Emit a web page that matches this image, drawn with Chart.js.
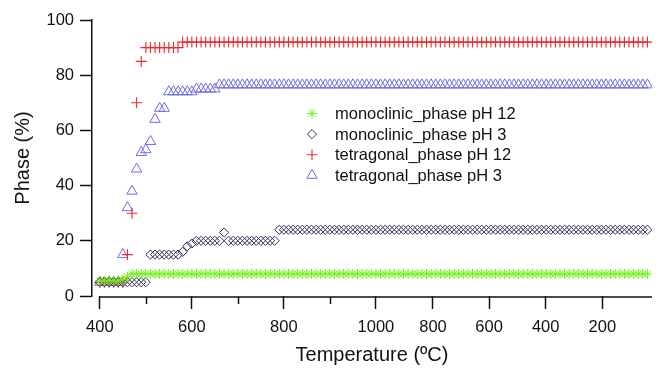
<!DOCTYPE html>
<html>
<head>
<meta charset="utf-8">
<script src="https://cdn.jsdelivr.net/npm/chart.js@4/dist/chart.umd.min.js"></script>
<style>
  html, body { margin: 0; padding: 0; background: #fff; }
  #wrap { width: 659px; height: 371px; position: relative; }
</style>
</head>
<body>
<div id="wrap"><canvas id="chart"></canvas></div>
<script>
// scan number (x position of each measurement, heating then cooling)
const scan = [
  0, 1, 2, 3, 4, 5, 6, 7, 8, 9, 10, 11, 12, 13, 14, 15, 16, 17, 18, 19,
  20, 21, 22, 23, 24, 25, 26, 27, 28, 29, 30, 31, 32, 33, 34, 35, 36, 37, 38, 39,
  40, 41, 42, 43, 44, 45, 46, 47, 48, 49, 50, 51, 52, 53, 54, 55, 56, 57, 58, 59,
  60, 61, 62, 63, 64, 65, 66, 67, 68, 69, 70, 71, 72, 73, 74, 75, 76, 77, 78, 79,
  80, 81, 82, 83, 84, 85, 86, 87, 88, 89, 90, 91, 92, 93, 94, 95, 96, 97, 98, 99,
  100, 101, 102, 103, 104, 105, 106, 107, 108, 109, 110, 111, 112, 113, 114, 115, 116, 117, 118, 119
];

// temperature labels on the bottom axis (scan position -> label)
const xTickPos = [0, 20, 40, 60, 72.4, 84.6, 96.9, 109.2];
const xTickLabels = ['400', '600', '800', '1000', '800', '600', '400', '200'];
const xMinorTicks = [10, 30, 50];
const yTicks = [0, 20, 40, 60, 80, 100];

// Phase (%) values
const monoPH12 = [
  5.5, 5.5, 5.5, 5.5, 5.5, 6, 7, 8, 8, 8, 8, 8, 8, 8, 8, 8, 8, 8, 8, 8,
  8, 8, 8, 8, 8, 8, 8, 8, 8, 8, 8, 8, 8, 8, 8, 8, 8, 8, 8, 8,
  8, 8, 8, 8, 8, 8, 8, 8, 8, 8, 8, 8, 8, 8, 8, 8, 8, 8, 8, 8,
  8, 8, 8, 8, 8, 8, 8, 8, 8, 8, 8, 8, 8, 8, 8, 8, 8, 8, 8, 8,
  8, 8, 8, 8, 8, 8, 8, 8, 8, 8, 8, 8, 8, 8, 8, 8, 8, 8, 8, 8,
  8, 8, 8, 8, 8, 8, 8, 8, 8, 8, 8, 8, 8, 8, 8, 8, 8, 8, 8, 8
];
const monoPH3 = [
  5, 5, 5, 5, 5, 5, 5, 5, 5, 5, 5, 15, 15, 15, 15, 15, 15, 15, 16, 18,
  19, 20, 20, 20, 20, 20, 20, 23, 20, 20, 20, 20, 20, 20, 20, 20, 20, 20, 20, 24,
  24, 24, 24, 24, 24, 24, 24, 24, 24, 24, 24, 24, 24, 24, 24, 24, 24, 24, 24, 24,
  24, 24, 24, 24, 24, 24, 24, 24, 24, 24, 24, 24, 24, 24, 24, 24, 24, 24, 24, 24,
  24, 24, 24, 24, 24, 24, 24, 24, 24, 24, 24, 24, 24, 24, 24, 24, 24, 24, 24, 24,
  24, 24, 24, 24, 24, 24, 24, 24, 24, 24, 24, 24, 24, 24, 24, 24, 24, 24, 24, 24
];
const tetraPH12 = [
  5, 5, 5, 5, 5, 5, 15, 30, 70, 85, 90, 90, 90, 90, 90, 90, 90, 90, 92, 92,
  92, 92, 92, 92, 92, 92, 92, 92, 92, 92, 92, 92, 92, 92, 92, 92, 92, 92, 92, 92,
  92, 92, 92, 92, 92, 92, 92, 92, 92, 92, 92, 92, 92, 92, 92, 92, 92, 92, 92, 92,
  92, 92, 92, 92, 92, 92, 92, 92, 92, 92, 92, 92, 92, 92, 92, 92, 92, 92, 92, 92,
  92, 92, 92, 92, 92, 92, 92, 92, 92, 92, 92, 92, 92, 92, 92, 92, 92, 92, 92, 92,
  92, 92, 92, 92, 92, 92, 92, 92, 92, 92, 92, 92, 92, 92, 92, 92, 92, 92, 92, 92
];
const tetraPH3 = [
  5, 5, 5, 5, 5, 15, 32, 38, 46, 52, 53, 56, 64, 68, 68, 74, 74, 74, 74, 74,
  74, 75, 75, 75, 75, 75, 76.5, 76.5, 76.5, 76.5, 76.5, 76.5, 76.5, 76.5, 76.5, 76.5, 76.5, 76.5, 76.5, 76.5,
  76.5, 76.5, 76.5, 76.5, 76.5, 76.5, 76.5, 76.5, 76.5, 76.5, 76.5, 76.5, 76.5, 76.5, 76.5, 76.5, 76.5, 76.5, 76.5, 76.5,
  76.5, 76.5, 76.5, 76.5, 76.5, 76.5, 76.5, 76.5, 76.5, 76.5, 76.5, 76.5, 76.5, 76.5, 76.5, 76.5, 76.5, 76.5, 76.5, 76.5,
  76.5, 76.5, 76.5, 76.5, 76.5, 76.5, 76.5, 76.5, 76.5, 76.5, 76.5, 76.5, 76.5, 76.5, 76.5, 76.5, 76.5, 76.5, 76.5, 76.5,
  76.5, 76.5, 76.5, 76.5, 76.5, 76.5, 76.5, 76.5, 76.5, 76.5, 76.5, 76.5, 76.5, 76.5, 76.5, 76.5, 76.5, 76.5, 76.5, 76.5
];

const FONT = '"Liberation Sans", Arial, sans-serif';
const AXIS_COLOR = '#111';

function makeSet(label, values, style, color, radius, width) {
    return {
        label: label,
        data: values,
        showLine: false,
        pointStyle: style,
        pointRadius: radius,
        pointHoverRadius: radius,
        pointBorderWidth: width,
        borderColor: color,
        pointBorderColor: color,
        backgroundColor: 'rgba(0,0,0,0)',
        pointBackgroundColor: 'rgba(0,0,0,0)'
    };
}

// temperature axis line starts at the first tick; minor ticks are shorter
const xAxisExtras = {
    id: 'xAxisExtras',
    afterDraw(chart) {
        const xs = chart.scales.x;
        const ctx = chart.ctx;
        const yLine = xs.top + 1;
        ctx.save();
        ctx.strokeStyle = AXIS_COLOR;
        ctx.lineWidth = 1.5;
        ctx.beginPath();
        ctx.moveTo(xs.getPixelForValue(0) - 0.75, yLine);
        ctx.lineTo(xs.right, yLine);
        ctx.stroke();
        xMinorTicks.forEach(v => {
            const px = Math.round(xs.getPixelForValue(v)) + 0.5;
            ctx.beginPath();
            ctx.moveTo(px, yLine);
            ctx.lineTo(px, yLine + 7);
            ctx.stroke();
        });
        ctx.restore();
    }
};

// legend sitting inside the plot area
const insideLegend = {
    id: 'insideLegend',
    afterDatasetsDraw(chart) {
        const ctx = chart.ctx;
        chart.data.datasets.forEach((ds, i) => {
            const y = 113.5 + i * 20.6;
            ctx.save();
            ctx.strokeStyle = ds.pointBorderColor;
            ctx.fillStyle = ds.pointBackgroundColor;
            ctx.lineWidth = ds.pointBorderWidth;
            Chart.helpers.drawPoint(ctx, {
                pointStyle: ds.pointStyle,
                radius: ds.pointRadius,
                rotation: 0,
                borderWidth: ds.pointBorderWidth
            }, 312, y);
            ctx.restore();
            ctx.save();
            ctx.fillStyle = '#111';
            ctx.font = '16.5px ' + FONT;
            ctx.textBaseline = 'middle';
            ctx.fillText(ds.label, 335, y + 1);
            ctx.restore();
        });
    }
};

const ctx = document.getElementById('chart').getContext('2d');
new Chart(ctx, {
    type: 'line',
    data: {
        labels: scan,
        datasets: [
            makeSet('monoclinic_phase pH 12', monoPH12, 'star', '#74ee1c', 5, 1),
            makeSet('monoclinic_phase pH 3', monoPH3, 'rectRot', '#30305e', 4.6, 1),
            makeSet('tetragonal_phase pH 12', tetraPH12, 'cross', '#ee2a2a', 5.5, 1.1),
            makeSet('tetragonal_phase pH 3', tetraPH3, 'triangle', '#6c6ce8', 6, 1)
        ]
    },
    options: {
        responsive: true,
        maintainAspectRatio: false,
        animation: false,
        layout: { padding: { top: 20, right: 2, left: 0, bottom: 0 } },
        plugins: {
            legend: { display: false },
            tooltip: { enabled: false }
        },
        scales: {
            x: {
                type: 'linear',
                min: -1.7,
                max: 120,
                afterBuildTicks: (scale) => {
                    scale.ticks = xTickPos.map(v => ({ value: v }));
                },
                afterFit: (scale) => { scale.height = 75; },
                ticks: {
                    autoSkip: false,
                    maxRotation: 0,
                    padding: 9,
                    color: '#111',
                    font: { family: FONT, size: 16.5 },
                    callback: (value, index) => xTickLabels[index]
                },
                grid: {
                    drawOnChartArea: false,
                    drawTicks: true,
                    tickLength: 13,
                    tickColor: AXIS_COLOR,
                    tickWidth: 1.5
                },
                border: { display: false },
                title: {
                    display: true,
                    text: 'Temperature (ºC)',
                    color: '#111',
                    font: { family: FONT, size: 20 },
                    padding: { top: 0, bottom: 4 }
                }
            },
            y: {
                min: 0,
                max: 100,
                afterBuildTicks: (scale) => {
                    scale.ticks = yTicks.map(v => ({ value: v }));
                },
                afterFit: (scale) => { scale.width = 92; },
                ticks: {
                    padding: 6,
                    color: '#111',
                    font: { family: FONT, size: 16.5 }
                },
                grid: {
                    drawOnChartArea: false,
                    drawTicks: true,
                    tickLength: 12,
                    tickColor: AXIS_COLOR,
                    tickWidth: 1.5
                },
                border: { color: AXIS_COLOR, width: 1.5 },
                title: {
                    display: true,
                    text: 'Phase (%)',
                    color: '#111',
                    font: { family: FONT, size: 20 },
                    padding: { top: 11, bottom: 0 }
                }
            }
        }
    },
    plugins: [xAxisExtras, insideLegend]
});
</script>
</body>
</html>
